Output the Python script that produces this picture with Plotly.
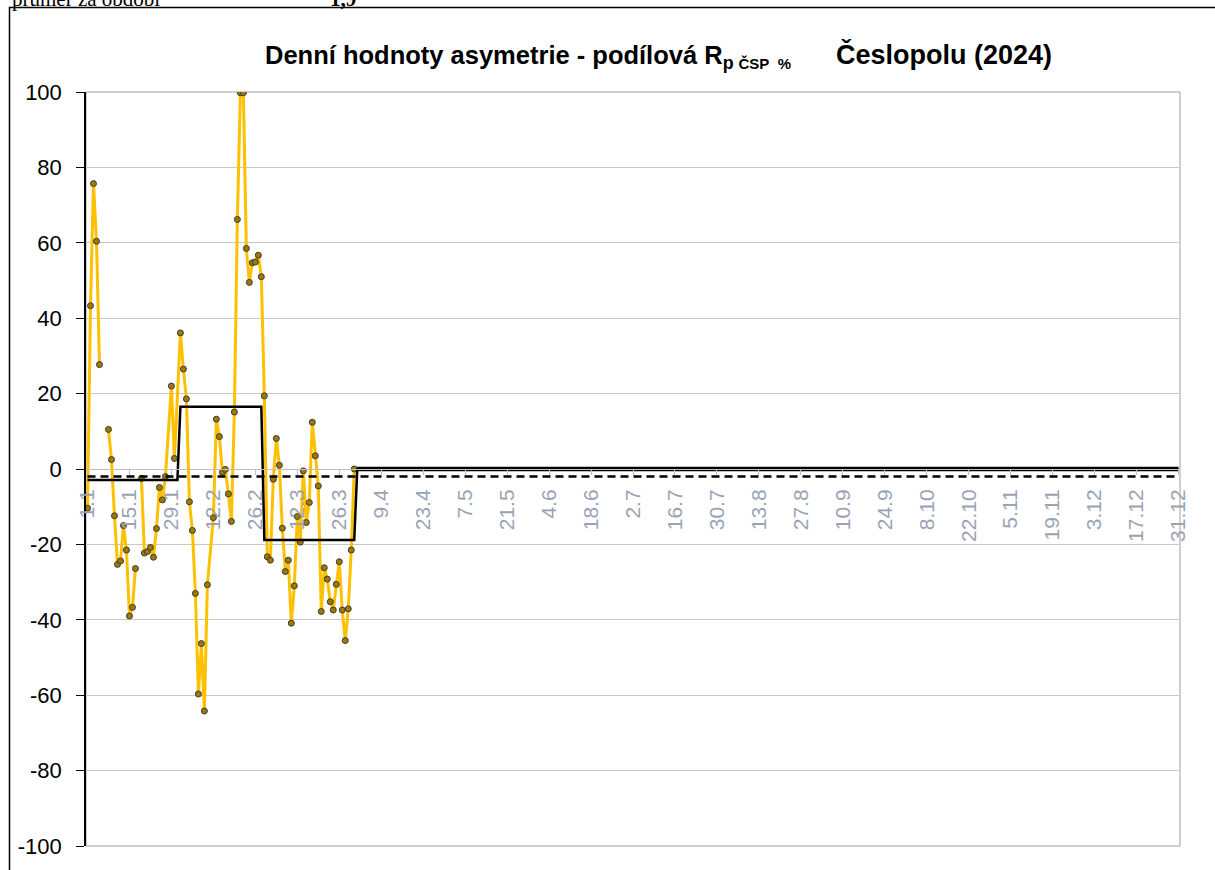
import plotly.graph_objects as go

# ---- data ----
obs_days = [1, 2, 3, 4, 5, 6,
            8, 9, 10, 11, 12, 13, 14, 15, 16, 17, 18,
            19, 20, 21, 22, 23, 24, 25, 26, 27,
            29, 30,
            32, 33, 34, 35, 36, 37, 38, 39, 40, 41,
            43, 44, 45, 46, 47, 48, 49, 50, 51, 52, 53, 54, 55, 56, 57, 58, 59,
            60, 61, 62, 63, 64, 65, 66, 67, 68, 69, 70, 71, 72, 73, 74, 75,
            76, 77, 78, 79, 80, 81, 82, 83, 84, 85, 86, 87, 88, 89, 90]
obs_values = [-10.4, 43.3, 75.7, 60.4, 27.7, None,
              10.5, 2.5, -12.4, -25.3, -24.4, -15.0, -21.5, -39.0, -36.7, -26.4, None,
              -2.5, -22.3, -21.9, -20.8, -23.4, -15.8, -4.9, -8.2, -2.0,
              22.0, 2.8,
              36.1, 26.5, 18.6, -8.7, -16.3, -33.0, -59.7, -46.3, -64.2, -30.7,
              -12.9, 13.2, 8.6, -0.9, -0.1, -6.6, -13.9, 15.1, 66.2, 99.8, 99.8, 58.5, 49.5, 54.7, 54.9, 56.7, 51.0,
              19.4, -23.3, -24.2, -2.7, 8.1, 1.0, -15.7, -27.2, -24.2, -40.9, -31.0, -12.6, -19.4, -0.5, -14.2, -8.9,
              12.4, 3.5, -4.5, -37.8, -26.2, -29.2, -35.2, -37.4, -30.6, -24.6, -37.4, -45.5, -37.1, -21.5, 0.0]

month_lengths = [31, 28, 31, 30, 31, 30, 31, 31, 30, 31, 30, 31]
monthly_mean = [-2.9, 16.5, -18.8, 0, 0, 0, 0, 0, 0, 0, 0, 0]
months_with_data = 3
period_mean = -2.0

tick_labels = ["1.1", "15.1", "29.1", "12.2", "26.2", "12.3", "26.3", "9.4", "23.4",
               "7.5", "21.5", "4.6", "18.6", "2.7", "16.7", "30.7", "13.8", "27.8",
               "10.9", "24.9", "8.10", "22.10", "5.11", "19.11", "3.12", "17.12", "31.12"]
y_ticks = [-100, -80, -60, -40, -20, 0, 20, 40, 60, 80, 100]

# ---- derived series ----
n_days = sum(month_lengths)
all_days = list(range(1, n_days + 1))
step_values = [m for m, n in zip(monthly_mean, month_lengths) for _ in range(n)]
mean_values = [period_mean] * n_days
tick_days = all_days[::14]
first_empty_day = sum(month_lengths[:months_with_data]) + 1

FONT = "Liberation Sans, Arial, sans-serif"
SERIF = "Liberation Serif, Times New Roman, serif"

fig = go.Figure()
fig.add_trace(go.Scatter(
    x=obs_days, y=obs_values, mode="lines+markers", connectgaps=False,
    line=dict(color="#FFC000", width=3),
    marker=dict(size=6, color="#9C7A00", line=dict(color="#3A3A3A", width=1)),
    hoverinfo="skip"))
fig.add_trace(go.Scatter(
    x=all_days, y=step_values, mode="lines",
    line=dict(color="black", width=2.5), hoverinfo="skip"))
fig.add_trace(go.Scatter(
    x=all_days[first_empty_day - 1:], y=step_values[first_empty_day - 1:], mode="lines",
    line=dict(color="black", width=4.5), hoverinfo="skip"))
fig.add_trace(go.Scatter(
    x=all_days, y=mean_values, mode="lines",
    line=dict(color="black", width=2.5, dash="8px,5px"), hoverinfo="skip"))

title_text = ("<b>Denní hodnoty asymetrie - podílová R<sub>p <span style='font-size:15px'>ČSP&nbsp;&nbsp;%</span></sub>"
              "<span style='font-size:27px'>&nbsp;&nbsp;&nbsp;&nbsp;&nbsp; Česlopolu (2024)</span></b>")

fig.update_layout(
    width=1215, height=870,
    margin=dict(l=86, r=35, t=92, b=24),
    paper_bgcolor="white", plot_bgcolor="white",
    showlegend=False,
    font=dict(family=FONT, color="black"),
    title=dict(
        text=title_text,
        x=265 / 1215, xanchor="left", xref="container",
        y=1 - 55 / 870, yanchor="middle", yref="container",
        font=dict(family=FONT, size=25.5, color="black")),
    xaxis=dict(
        range=[0.5, n_days + 0.5],
        tickmode="array", tickvals=tick_days, ticktext=tick_labels,
        tickangle=-90, tickfont=dict(family=FONT, size=21, color="#9AA3B5"),
        anchor="free", position=0.5,
        showline=True, linecolor="#BFBFBF", linewidth=1,
        ticks="outside", ticklen=5, tickcolor="#BFBFBF",
        showgrid=False, zeroline=False, automargin=False,
        ticklabelstandoff=6),
    yaxis=dict(
        range=[-100, 100], tickmode="array", tickvals=y_ticks,
        ticktext=[str(v) for v in y_ticks],
        showgrid=True, gridcolor="#C8C8C8", gridwidth=1,
        showline=True, linecolor="black", linewidth=1.5,
        ticks="outside", ticklen=8, tickcolor="black", tickwidth=1,
        tickfont=dict(family=FONT, size=22, color="black"),
        zeroline=False, automargin=False, ticklabelstandoff=10),
    shapes=[
        dict(type="rect", xref="paper", yref="paper", x0=0, x1=1, y0=0, y1=1,
             line=dict(color="#A0A0A0", width=1), layer="below"),
        dict(type="rect", xref="paper", yref="paper",
             x0=(9.5 - 86) / 1094, x1=1.5, y0=-1, y1=1 + (92 - 7.5) / 754,
             line=dict(color="black", width=1.5), layer="above"),
    ],
    annotations=[
        dict(text="průměr za období", xref="paper", yref="paper",
             x=(10 - 86) / 1094, y=1 + (92 + 1) / 754, xanchor="left", yanchor="middle",
             showarrow=False, font=dict(family=SERIF, size=21, color="black")),
        dict(text="<b>1,9</b>", xref="paper", yref="paper",
             x=(328 - 86) / 1094, y=1 + (92 + 1) / 754, xanchor="left", yanchor="middle",
             showarrow=False, font=dict(family=SERIF, size=21, color="black")),
    ],
)

fig.write_html("out.html", config={"displayModeBar": False},
               post_script="document.body.style.margin='0';")
